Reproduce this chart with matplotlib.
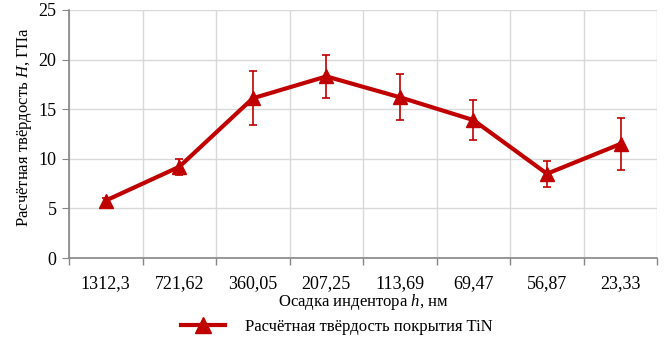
import numpy as np
import matplotlib.pyplot as plt
from matplotlib.ticker import FixedLocator
from matplotlib.lines import Line2D

plt.rcParams['font.family'] = ['Liberation Serif', 'DejaVu Serif']
plt.rcParams['mathtext.fontset'] = 'custom'
plt.rcParams['mathtext.rm'] = 'Liberation Serif'
plt.rcParams['mathtext.it'] = 'Liberation Serif:italic'

depths = ["1312,3", "721,62", "360,05", "207,25", "113,69", "69,47", "56,87", "23,33"]
hardness = [5.8, 9.2, 16.1, 18.3, 16.2, 13.9, 8.5, 11.5]
errors = [0.3, 0.8, 2.7, 2.2, 2.3, 2.0, 1.3, 2.6]

color = "#C00000"
grid_c = "#D9D9D9"
axis_c = "#868686"

fig = plt.figure(figsize=(6.70, 3.41), dpi=100)
ax = fig.add_axes([0.103, 0.243, 0.878, 0.728])

x = np.arange(len(depths))
ax.errorbar(x, hardness, yerr=errors, color=color, lw=3, marker="^",
            markersize=10, ecolor=color, elinewidth=1.2, capsize=3,
            capthick=1.2, zorder=3)

ax.set_xlim(-0.5, len(depths) - 0.5)
ax.set_ylim(0, 25)
ax.set_yticks(np.arange(0, 26, 5))
ax.set_xticks(x)
ax.set_xticklabels(depths)
ax.xaxis.set_minor_locator(FixedLocator(np.arange(-0.5, len(depths), 1)))
ax.tick_params(axis="x", which="major", length=0, pad=12, labelsize=13)
ax.tick_params(axis="x", which="minor", length=5, color=axis_c, width=1)
ax.tick_params(axis="y", length=5, color=axis_c, labelsize=13, pad=4)

ax.grid(True, axis="y", color=grid_c, lw=1)
ax.grid(True, axis="x", which="minor", color=grid_c, lw=1)
ax.set_axisbelow(True)
for s in ["top", "right"]:
    ax.spines[s].set_visible(False)
for s in ["left", "bottom"]:
    ax.spines[s].set_color(axis_c)
    ax.spines[s].set_linewidth(1.2)

ax.set_ylabel("Расчётная твёрдость $\\mathit{H}$, ГПа", fontsize=12)
ax.yaxis.set_label_coords(-0.06, 0.53)
ax.set_xlabel("Осадка индентора $\\mathit{h}$, нм", fontsize=12, labelpad=0)

handle = Line2D([], [], color=color, lw=3, marker="^", markersize=11)
ax.legend([handle], ["Расчётная твёрдость покрытия TiN"], loc="upper center",
          bbox_to_anchor=(0.455, -0.185), frameon=False, fontsize=12,
          handlelength=2.6, handletextpad=1.2)

fig.savefig("out.png", dpi=100)
